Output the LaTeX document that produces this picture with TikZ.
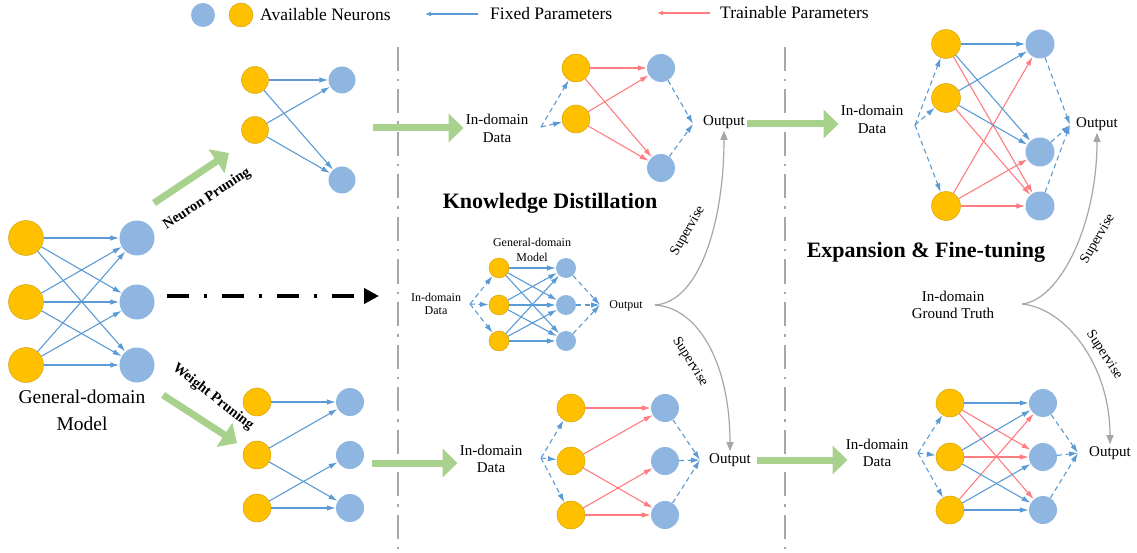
\documentclass[tikz,border=0pt]{standalone}
\usepackage{fontspec}
\setmainfont{Liberation Serif}
\usetikzlibrary{arrows.meta,positioning}
\definecolor{neuronorange}{RGB}{255,192,0}
\definecolor{neuronblue}{RGB}{143,182,225}
\definecolor{fixedblue}{RGB}{91,155,213}
\definecolor{trainred}{RGB}{255,124,128}
\definecolor{pruninggreen}{RGB}{169,209,142}
\definecolor{supgray}{RGB}{166,166,166}

\begin{document}
\begin{tikzpicture}[x=1pt, y=-1pt, >={Latex[length=9pt,width=5.5pt]}]
 % Define styles
 \tikzstyle{inneuron} = [circle, fill=neuronorange, draw=neuronorange!80!black, line width=0.4pt, inner sep=0pt]
 \tikzstyle{outneuron} = [circle, fill=neuronblue, inner sep=0pt]
 \tikzstyle{fixededge} = [->, fixedblue, line width=1.1pt]
 \tikzstyle{trainedge} = [->, trainred, line width=1.1pt]
 \tikzstyle{datain} = [->, fixedblue, line width=1.1pt, dash pattern=on 5pt off 3.5pt]
 \tikzstyle{txt} = [font=\fontsize{15}{18}\selectfont, align=center, inner sep=2pt]
 \tikzstyle{smalltxt} = [font=\fontsize{12}{13}\selectfont, align=center, inner sep=1pt]
 \tikzstyle{legendtxt} = [font=\fontsize{17.5}{19}\selectfont, anchor=west, inner sep=1pt]
 \tikzstyle{headline} = [font=\fontsize{22}{24}\selectfont\bfseries]
 \tikzstyle{prunetxt} = [font=\fontsize{14.5}{16}\selectfont\bfseries]
 \tikzstyle{greenarrow} = [pruninggreen, line width=7pt, -{Triangle[length=15pt,width=28pt]}]
 \tikzstyle{supervise} = [supgray, line width=1.2pt, -{Triangle[length=9pt,width=7pt]}]
 \tikzstyle{separator} = [supgray, line width=2.5pt, dash pattern=on 24pt off 8pt on 2.5pt off 8pt]
 \useasboundingbox (0,0) rectangle (1137,553);

%%==== Legend ====================================================================
 \node [outneuron, minimum size=24pt] (lgBlue) at (203,15) {};
 \node [inneuron, minimum size=24pt] (lgOrange) at (241,15) {};
 \node [legendtxt] (lgNeuron) at (259,15) {Available Neurons};
 \coordinate (lgFixA) at (478,14);
 \coordinate (lgFixB) at (425,14);
 \draw [fixededge, line width=2pt, -{Latex[length=6pt,width=5pt]}] (lgFixA) -- (lgFixB);
 \node [legendtxt] (lgFixed) at (489,14) {Fixed Parameters};
 \coordinate (lgTrainA) at (710,13);
 \coordinate (lgTrainB) at (657,13);
 \draw [trainedge, line width=2pt, -{Latex[length=6pt,width=5pt]}] (lgTrainA) -- (lgTrainB);
 \node [legendtxt] (lgTrain) at (719,13) {Trainable Parameters};

%%==== Separators ================================================================
 \coordinate (sepLa) at (398,47);
 \coordinate (sepLb) at (398,553);
 \coordinate (sepRa) at (785,47);
 \coordinate (sepRb) at (785,553);
 \draw [separator] (sepLa) -- (sepLb);
 \draw [separator] (sepRa) -- (sepRb);

%%==== General-domain model ======================================================
 \foreach \i/\y in {1/238,2/302,3/365} {
   \node [inneuron, minimum size=35pt] (gmI\i) at (26,\y) {};
   \node [outneuron, minimum size=35pt] (gmO\i) at (137,\y) {};
 }
 \foreach \i in {1,2,3} \foreach \j in {1,2,3} \draw [fixededge] (gmI\i) -- (gmO\j);
 \node [txt, font=\fontsize{19.5}{27}\selectfont] (gmLabel) at (82,410) {General-domain\\Model};

%%==== Neuron pruning ============================================================
 \node [inneuron, minimum size=27pt] (npI1) at (255,80) {};
 \node [inneuron, minimum size=27pt] (npI2) at (255,130) {};
 \node [outneuron, minimum size=27pt] (npO1) at (342,80) {};
 \node [outneuron, minimum size=27pt] (npO2) at (342,180) {};
 \foreach \i in {1,2} \foreach \j in {1,2} \draw [fixededge] (npI\i) -- (npO\j);
 \coordinate (npFrom) at (154,203);
 \coordinate (npTo) at (229,153);
 \draw [greenarrow] (npFrom) -- (npTo);
 \node [prunetxt, rotate=33] (npLabel) at (207,199) {Neuron Pruning};

%%==== Weight pruning ============================================================
 \foreach \i/\y in {1/402,2/455,3/508} {
   \node [inneuron, minimum size=28pt] (wpI\i) at (257,\y) {};
   \node [outneuron, minimum size=28pt] (wpO\i) at (350,\y) {};
 }
 \foreach \i/\j in {1/1,2/1,2/3,3/2,3/3} \draw [fixededge] (wpI\i) -- (wpO\j);
 \coordinate (wpFrom) at (163,395);
 \coordinate (wpTo) at (237,443);
 \draw [greenarrow] (wpFrom) -- (wpTo);
 \node [prunetxt, rotate=-38] (wpLabel) at (213,397) {Weight Pruning};

%%==== Distillation path =========================================================
 \coordinate (distFrom) at (167,296);
 \coordinate (distTo) at (379,296);
 \draw [line width=4pt, dash pattern=on 22pt off 15pt on 3pt off 15pt, -{Triangle[length=15pt,width=15pt]}] (distFrom) -- (distTo);

%%==== Knowledge distillation: student (neuron pruned) ===========================
 \node [txt] (kdtData) at (497,128) {In-domain\\Data};
 \node [inneuron, minimum size=28pt] (kdtI1) at (576,68) {};
 \node [inneuron, minimum size=28pt] (kdtI2) at (576,119) {};
 \node [outneuron, minimum size=28pt] (kdtO1) at (661,68) {};
 \node [outneuron, minimum size=28pt] (kdtO2) at (661,168) {};
 \coordinate (kdtIn) at (541,127);
 \coordinate (kdtOut) at (693,124);
 \node [txt] (kdtOutLbl) at (724,122) {Output};
 \foreach \i in {1,2} \foreach \j in {1,2} \draw [trainedge] (kdtI\i) -- (kdtO\j);
 \foreach \i in {1,2} \draw [datain] (kdtIn) -- (kdtI\i);
 \foreach \j in {1,2} \draw [datain] (kdtO\j) -- (kdtOut);
 \coordinate (kdtGreen) at (373,128);
 \draw [greenarrow] (kdtGreen) -- (kdtGreen -| kdtData.west);

 \node [headline] (kdTitle) at (550,203) {Knowledge Distillation};

%%==== Knowledge distillation: teacher ===========================================
 \node [smalltxt] (kdmData) at (436,304) {In-domain\\Data};
 \node [smalltxt, font=\fontsize{12}{15}\selectfont] (kdmLabel) at (532,250) {General-domain\\Model};
 \foreach \i/\y in {1/268,2/305,3/341} {
   \node [inneuron, minimum size=20pt] (kdmI\i) at (499,\y) {};
   \node [outneuron, minimum size=20pt] (kdmO\i) at (566,\y) {};
 }
 \coordinate (kdmIn) at (470,304);
 \coordinate (kdmOut) at (600,305);
 \node [smalltxt] (kdmOutLbl) at (626,306) {Output};
 \foreach \i in {1,2,3} \foreach \j in {1,2,3} \draw [fixededge] (kdmI\i) -- (kdmO\j);
 \foreach \i in {1,2,3} \draw [datain] (kdmIn) -- (kdmI\i);
 \foreach \j in {1,2,3} \draw [datain] (kdmO\j) -- (kdmOut);

%%==== Knowledge distillation: student (weight pruned) ===========================
 \node [txt, font=\fontsize{15}{17}\selectfont] (kdbData) at (491,459) {In-domain\\Data};
 \foreach \i/\y in {1/408,2/461,3/515} {
   \node [inneuron, minimum size=28pt] (kdbI\i) at (571,\y) {};
   \node [outneuron, minimum size=28pt] (kdbO\i) at (665,\y) {};
 }
 \coordinate (kdbIn) at (541,458);
 \coordinate (kdbOut) at (700,460);
 \node [txt] (kdbOutLbl) at (730,460) {Output};
 \foreach \i/\j in {1/1,2/1,2/3,3/2,3/3} \draw [trainedge] (kdbI\i) -- (kdbO\j);
 \foreach \i in {1,2,3} \draw [datain] (kdbIn) -- (kdbI\i);
 \foreach \j in {1,2,3} \draw [datain] (kdbO\j) -- (kdbOut);
 \coordinate (kdbGreen) at (372,463);
 \draw [greenarrow] (kdbGreen) -- (kdbGreen -| kdbData.west);

 % supervision by the teacher
 \coordinate (kdFork) at (655,305);
 \draw [supervise] (kdFork) .. controls +(45,-3) and +(0,90) .. (kdtOutLbl.south);
 \draw [supervise] (kdFork) .. controls +(45,3) and +(0,-85) .. (kdbOutLbl.north);
 \node [txt, font=\fontsize{14}{16}\selectfont, rotate=60] (kdSupA) at (688,231) {Supervise};
 \node [txt, font=\fontsize{14}{16}\selectfont, rotate=-58] (kdSupB) at (690,362) {Supervise};

%%==== Expansion & fine-tuning (neuron pruned) ===================================
 \node [txt] (etData) at (872,119) {In-domain\\Data};
 \node [inneuron, minimum size=29pt] (etI1) at (946,44) {};
 \node [inneuron, minimum size=29pt] (etI2) at (946,98) {};
 \node [inneuron, minimum size=29pt] (etI3) at (946,206) {};
 \node [outneuron, minimum size=29pt] (etO1) at (1040,44) {};
 \node [outneuron, minimum size=29pt] (etO2) at (1040,152) {};
 \node [outneuron, minimum size=29pt] (etO3) at (1040,206) {};
 \coordinate (etIn) at (915,125);
 \coordinate (etOut) at (1070,125);
 \node [txt] (etOutLbl) at (1097,124) {Output};
 \foreach \i/\j in {1/3,2/3,3/1,3/2,3/3} \draw [trainedge] (etI\i) -- (etO\j);
 \foreach \i in {1,2} \foreach \j in {1,2} \draw [fixededge] (etI\i) -- (etO\j);
 \foreach \i in {1,2,3} \draw [datain] (etIn) -- (etI\i);
 \foreach \j in {1,2,3} \draw [datain] (etO\j) -- (etOut);
 \draw [greenarrow] ([yshift=-2pt]kdtOutLbl.east) -- ([yshift=-2pt]kdtOutLbl.east -| etData.west);

 \node [headline] (etTitle) at (926,252) {Expansion \& Fine-tuning};

%%==== Expansion & fine-tuning (weight pruned) ===================================
 \node [txt, font=\fontsize{15}{17}\selectfont] (ebData) at (877,453) {In-domain\\Data};
 \foreach \i/\y in {1/403,2/457,3/510} {
   \node [inneuron, minimum size=28pt] (ebI\i) at (950,\y) {};
   \node [outneuron, minimum size=28pt] (ebO\i) at (1043,\y) {};
 }
 \coordinate (ebIn) at (918,453);
 \coordinate (ebOut) at (1078,453);
 \node [txt] (ebOutLbl) at (1110,453) {Output};
 \foreach \i/\j in {1/2,1/3,2/2,3/1} \draw [trainedge] (ebI\i) -- (ebO\j);
 \foreach \i/\j in {1/1,2/1,2/3,3/2,3/3} \draw [fixededge] (ebI\i) -- (ebO\j);
 \foreach \i in {1,2,3} \draw [datain] (ebIn) -- (ebI\i);
 \foreach \j in {1,2,3} \draw [datain] (ebO\j) -- (ebOut);
 \draw [greenarrow] ([xshift=4pt]kdbOutLbl.east) -- ([xshift=4pt]kdbOutLbl.east -| ebData.west);

 % supervision by the ground truth
 \node [txt, font=\fontsize{15}{17}\selectfont] (gt) at (953,305) {In-domain\\Ground Truth};
 \coordinate (gtFork) at (1022,304);
 \draw [supervise] (gtFork) .. controls +(38,-4) and +(0,92) .. (etOutLbl.south);
 \draw [supervise] (gtFork) .. controls +(43,4) and +(0,-80) .. (ebOutLbl.north);
 \node [txt, font=\fontsize{14}{16}\selectfont, rotate=60] (etSupA) at (1098,239) {Supervise};
 \node [txt, font=\fontsize{14}{16}\selectfont, rotate=-57] (ebSupB) at (1104,355) {Supervise};
\end{tikzpicture}
\end{document}
